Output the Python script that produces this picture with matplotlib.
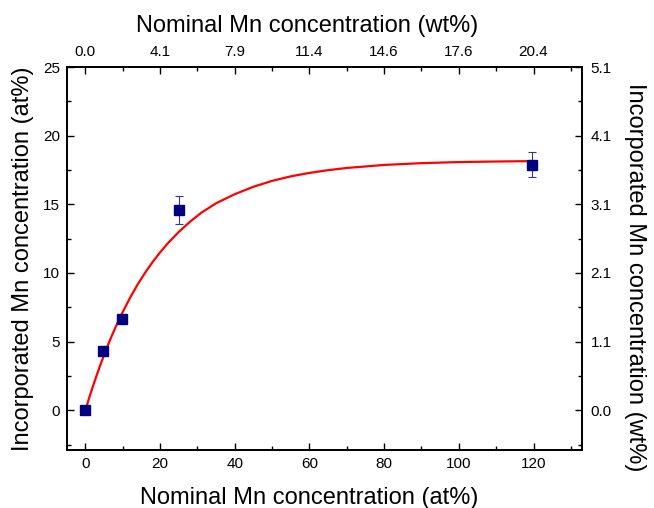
import matplotlib
matplotlib.use("Agg")
import matplotlib.pyplot as plt
from matplotlib.ticker import MultipleLocator

plt.rcParams['font.family'] = ['Liberation Sans', 'DejaVu Sans']

# measured points
nominal_at = [0, 4.6, 9.7, 25.2, 119.5]
incorp_at = [0, 4.3, 6.65, 14.6, 17.9]
incorp_err = [0.2, 0.3, 0.3, 1.0, 0.9]

# fit curve
fit_x = [0, 1, 2, 3, 4, 5, 6, 7, 8, 9, 10, 12, 14, 16, 18, 20, 22, 25, 28, 31, 35,
         40, 45, 50, 55, 60, 65, 70, 80, 90, 100, 110, 120]
fit_y = [0, 0.89, 1.73, 2.53, 3.30, 4.02, 4.72, 5.38, 6.00, 6.60, 7.16, 8.21, 9.17, 10.02,
         10.80, 11.50, 12.14, 12.99, 13.73, 14.38, 15.08, 15.74, 16.28, 16.71, 17.04,
         17.29, 17.49, 17.65, 17.87, 18.00, 18.08, 18.12, 18.15]

x_ticks = [0, 20, 40, 60, 80, 100, 120]
top_labels = ['0.0', '4.1', '7.9', '11.4', '14.6', '17.6', '20.4']
y_ticks = [0, 5, 10, 15, 20, 25]
right_labels = ['0.0', '1.1', '2.1', '3.1', '4.1', '5.1']

fig = plt.figure(figsize=(6.54, 5.08), dpi=100)
ax = fig.add_axes([0.102, 0.114, 0.788, 0.754])

ax.plot(fit_x, fit_y, color='red', lw=1.6, zorder=2)
ax.errorbar(nominal_at, incorp_at, yerr=incorp_err, fmt='s', color='#000080',
            ms=6.5, elinewidth=0.8, capsize=3, capthick=0.8, ecolor='#3535a0', zorder=3)

ax.set_xlim(-5, 133)
ax.set_ylim(-2.9, 25)
ax.set_xticks(x_ticks)
ax.set_yticks(y_ticks)
ax.xaxis.set_minor_locator(MultipleLocator(10))
ax.yaxis.set_minor_locator(MultipleLocator(2.5))
ax.tick_params(which='both', direction='in', labelsize=11, pad=5)
ax.tick_params(which='major', length=5, width=1)
ax.tick_params(which='minor', length=3, width=1)
ax.set_xlabel('Nominal Mn concentration (at%)', fontsize=17)
ax.xaxis.set_label_coords(0.47, -0.097)
ax.set_ylabel('Incorporated Mn concentration (at%)', fontsize=17, labelpad=6)

ax_top = ax.twiny()
ax_top.set_xlim(ax.get_xlim())
ax_top.set_xticks(x_ticks)
ax_top.set_xticklabels(top_labels)
ax_top.xaxis.set_minor_locator(MultipleLocator(10))
ax_top.tick_params(which='both', direction='in', labelsize=11, pad=6)
ax_top.tick_params(which='major', length=5, width=1)
ax_top.tick_params(which='minor', length=3, width=1)
ax_top.set_xlabel('Nominal Mn concentration (wt%)', fontsize=17)
ax_top.xaxis.set_label_coords(0.466, 1.092)

ax_right = ax.twinx()
ax_right.set_ylim(ax.get_ylim())
ax_right.set_yticks(y_ticks)
ax_right.set_yticklabels(right_labels)
ax_right.yaxis.set_minor_locator(MultipleLocator(2.5))
ax_right.tick_params(which='both', direction='in', labelsize=11, pad=6)
ax_right.tick_params(which='major', length=5, width=1)
ax_right.tick_params(which='minor', length=3, width=1)
ax_right.set_ylabel('Incorporated Mn concentration (wt%)', fontsize=17, rotation=270)
ax_right.yaxis.set_label_coords(1.125, 0.452)

for a in (ax, ax_top, ax_right):
    for s in a.spines.values():
        s.set_linewidth(1.2)

fig.savefig('out.png', dpi=100)
